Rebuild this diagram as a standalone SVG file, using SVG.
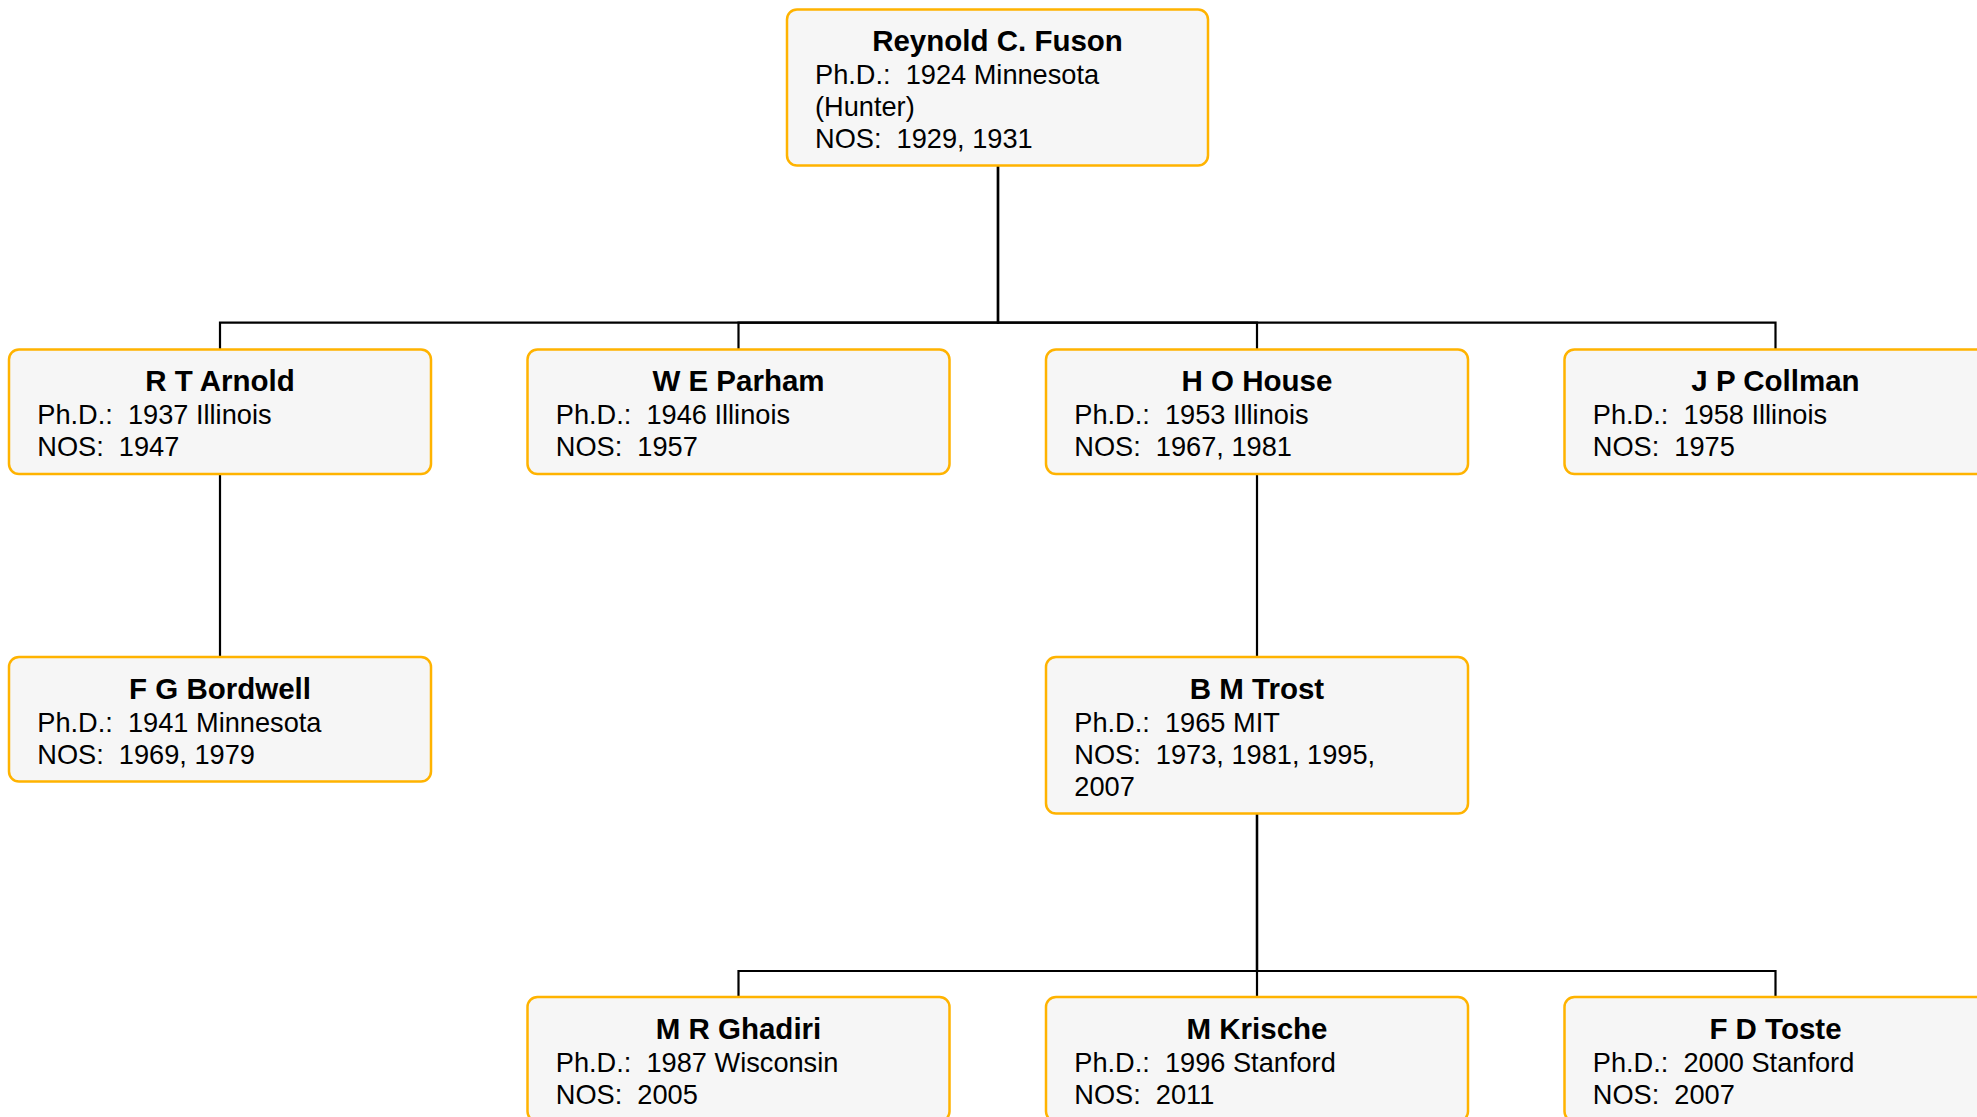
<svg xmlns="http://www.w3.org/2000/svg" width="1977" height="1117" viewBox="0 0 1977 1117">
<style>
.box{fill:#f6f6f6;stroke:#ffb300;stroke-width:2.5}
.edge{fill:none;stroke:#000;stroke-width:2.2}
.t{font-family:"Liberation Sans",Arial,sans-serif;font-size:27.2px;fill:#000;white-space:pre}
.h{font-family:"Liberation Sans",Arial,sans-serif;font-size:29.5px;font-weight:bold;fill:#000;text-anchor:middle}
</style>
<rect width="1977" height="1117" fill="#fff"/>
<g id="connectors">
<path class="edge" d="M998,166 V322.7 H220 V349.5"/>
<path class="edge" d="M998,166 V322.7 H738.5 V349.5"/>
<path class="edge" d="M998,166 V322.7 H1257 V349.5"/>
<path class="edge" d="M998,166 V322.7 H1775.5 V349.5"/>
<path class="edge" d="M220,474 V657"/>
<path class="edge" d="M1257,474 V657"/>
<path class="edge" d="M1257,813.5 V971 H738.5 V997"/>
<path class="edge" d="M1257,813.5 V971 H1257 V997"/>
<path class="edge" d="M1257,813.5 V971 H1775.5 V997"/>
</g>
<g id="fuson">
<rect class="box" x="787" y="9.5" width="421" height="156" rx="10"/>
<text class="h" x="997.5" y="51">Reynold C. Fuson</text>
<text class="t" x="815" y="84.2">Ph.D.:  1924 Minnesota</text>
<text class="t" x="815" y="116">(Hunter)</text>
<text class="t" x="815" y="147.7">NOS:  1929, 1931</text>
</g>
<g id="arnold">
<rect class="box" x="9" y="349.5" width="422" height="124.5" rx="10"/>
<text class="h" x="220" y="391.3">R T Arnold</text>
<text class="t" x="37.3" y="424.3">Ph.D.:  1937 Illinois</text>
<text class="t" x="37.3" y="456">NOS:  1947</text>
</g>
<g id="parham">
<rect class="box" x="527.5" y="349.5" width="422" height="124.5" rx="10"/>
<text class="h" x="738.5" y="391.3">W E Parham</text>
<text class="t" x="555.8" y="424.3">Ph.D.:  1946 Illinois</text>
<text class="t" x="555.8" y="456">NOS:  1957</text>
</g>
<g id="house">
<rect class="box" x="1046" y="349.5" width="422" height="124.5" rx="10"/>
<text class="h" x="1257" y="391.3">H O House</text>
<text class="t" x="1074.3" y="424.3">Ph.D.:  1953 Illinois</text>
<text class="t" x="1074.3" y="456">NOS:  1967, 1981</text>
</g>
<g id="collman">
<rect class="box" x="1564.5" y="349.5" width="422" height="124.5" rx="10"/>
<text class="h" x="1775.5" y="391.3">J P Collman</text>
<text class="t" x="1592.8" y="424.3">Ph.D.:  1958 Illinois</text>
<text class="t" x="1592.8" y="456">NOS:  1975</text>
</g>
<g id="bordwell">
<rect class="box" x="9" y="657" width="422" height="124.5" rx="10"/>
<text class="h" x="220" y="699">F G Bordwell</text>
<text class="t" x="37.3" y="731.7">Ph.D.:  1941 Minnesota</text>
<text class="t" x="37.3" y="763.5">NOS:  1969, 1979</text>
</g>
<g id="trost">
<rect class="box" x="1046" y="657" width="422" height="156.5" rx="10"/>
<text class="h" x="1257" y="699">B M Trost</text>
<text class="t" x="1074.3" y="731.7">Ph.D.:  1965 MIT</text>
<text class="t" x="1074.3" y="763.5">NOS:  1973, 1981, 1995,</text>
<text class="t" x="1074.3" y="795.5">2007</text>
</g>
<g id="ghadiri">
<rect class="box" x="527.5" y="997" width="422" height="124.5" rx="10"/>
<text class="h" x="738.5" y="1039">M R Ghadiri</text>
<text class="t" x="555.8" y="1071.5">Ph.D.:  1987 Wisconsin</text>
<text class="t" x="555.8" y="1103.5">NOS:  2005</text>
</g>
<g id="krische">
<rect class="box" x="1046" y="997" width="422" height="124.5" rx="10"/>
<text class="h" x="1257" y="1039">M Krische</text>
<text class="t" x="1074.3" y="1071.5">Ph.D.:  1996 Stanford</text>
<text class="t" x="1074.3" y="1103.5">NOS:  2011</text>
</g>
<g id="toste">
<rect class="box" x="1564.5" y="997" width="422" height="124.5" rx="10"/>
<text class="h" x="1775.5" y="1039">F D Toste</text>
<text class="t" x="1592.8" y="1071.5">Ph.D.:  2000 Stanford</text>
<text class="t" x="1592.8" y="1103.5">NOS:  2007</text>
</g>
</svg>
